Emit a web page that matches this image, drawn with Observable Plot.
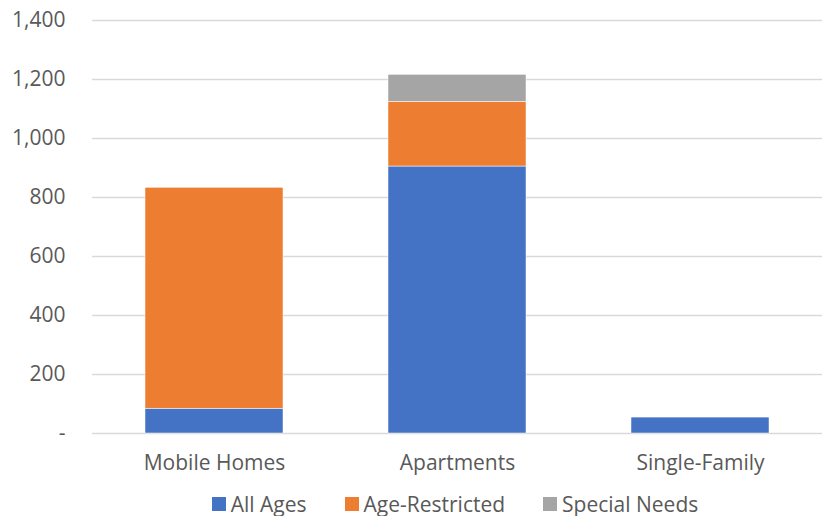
<!DOCTYPE html>
<html>
<head>
<meta charset="utf-8">
<script src="https://cdn.jsdelivr.net/npm/d3@7"></script>
<script src="https://cdn.jsdelivr.net/npm/@observablehq/plot@0.6"></script>
<style>
  body { margin: 0; background: #fff; font-family: "Open Sans", sans-serif; }
  #chart { width: 824px; }
  .legend { display: flex; justify-content: center; align-items: center; gap: 38px; height: 31px; font-size: 21px; color: #595959; padding-left: 86px; padding-top: 3px; }
  .legend .item { display: flex; align-items: center; gap: 5px; }
  .legend .sw { width: 14px; height: 14px; display: inline-block; }
</style>
</head>
<body>
<div id="chart"></div>
<script>
const categories = ["Mobile Homes", "Apartments", "Single-Family"];
const seriesNames = ["All Ages", "Age-Restricted", "Special Needs"];
const allAges = [84, 905, 54];
const ageRestricted = [749, 219, 0];
const specialNeeds = [0, 92, 0];
const colors = ["#4472C4", "#ED7D31", "#A5A5A5"];
const yTicks = [0, 200, 400, 600, 800, 1000, 1200, 1400];

const seriesValues = [allAges, ageRestricted, specialNeeds];
const data = [];
seriesNames.forEach((s, si) => categories.forEach((c, ci) => data.push({category: c, series: s, value: seriesValues[si][ci]})));

const fmt = d => d === 0 ? "-" : d3.format(",")(d);

const plot = Plot.plot({
  width: 824,
  height: 485,
  marginLeft: 92,
  marginRight: 2,
  marginTop: 20,
  marginBottom: 52,
  style: {fontFamily: "Open Sans, sans-serif", fontSize: "21px", color: "#595959", background: "#fff"},
  x: {domain: categories, paddingInner: 0.434, paddingOuter: 0.217, label: null},
  y: {domain: [0, 1400], label: null},
  color: {domain: seriesNames, range: colors},
  marks: [
    Plot.ruleY(yTicks, {stroke: "#D9D9D9", strokeWidth: 1.5}),
    Plot.barY(data, {x: "category", y: "value", fill: "series", order: seriesNames, stroke: "#fff", strokeWidth: 0.5}),
    Plot.axisY(yTicks, {tickSize: 0, tickPadding: 27, tickFormat: fmt, fill: "#595959", fontSize: 21, label: null}),
    Plot.axisX({tickSize: 0, tickPadding: 22, fill: "#595959", fontSize: 21, label: null})
  ]
});
document.getElementById("chart").appendChild(plot);

const legend = document.createElement("div");
legend.className = "legend";
seriesNames.forEach((s, i) => {
  const it = document.createElement("div");
  it.className = "item";
  const sw = document.createElement("span");
  sw.className = "sw";
  sw.style.background = colors[i];
  const t = document.createElement("span");
  t.textContent = s;
  it.appendChild(sw); it.appendChild(t);
  legend.appendChild(it);
});
document.getElementById("chart").appendChild(legend);
</script>
</body>
</html>
